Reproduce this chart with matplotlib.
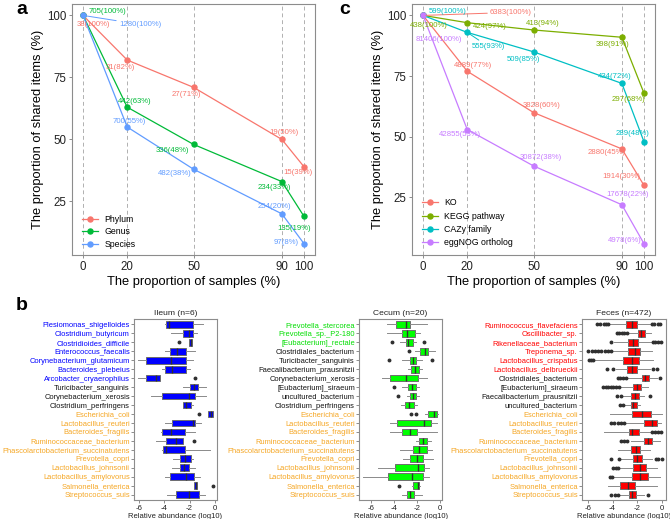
import numpy as np
import matplotlib
matplotlib.use('Agg')
import matplotlib.pyplot as plt

plt.rcParams['font.family'] = ['Liberation Sans', 'DejaVu Sans']

# ---- panel a / c data ----
sample_pct = [0, 20, 50, 90, 100]

taxa_names = ['Phylum', 'Genus', 'Species']
taxa_counts = [[38, 31, 27, 19, 15],
               [705, 442, 336, 234, 135],
               [1280, 700, 482, 254, 97]]
taxa_pct = [[100, 82, 71, 50, 39],
            [100, 63, 48, 33, 19],
            [100, 55, 38, 20, 8]]

func_names = ['KO', 'KEGG pathway', 'CAZy family', 'eggNOG ortholog']
func_counts = [[6383, 4889, 3828, 2880, 1914],
               [438, 424, 413, 398, 297],
               [599, 555, 509, 434, 289],
               [81406, 42855, 30872, 17678, 4978]]
func_pct = [[100, 77, 60, 45, 30],
            [100, 97, 94, 91, 68],
            [100, 93, 85, 72, 48],
            [100, 53, 38, 22, 6]]

# label offsets (pixels) and which labels get a leader line
taxa_offsets = [[(10, -9), (-7, -7), (-7, -7), (2, 7), (-6, -6)],
                [(24, 4), (7, 6), (-21, -6), (-7, -6), (-10, -12)],
                [(57, -9), (2, 6), (-19, -4), (-7, 7), (-18, 1)]]
taxa_leader = [(2, 0)]
func_offsets = [[(88, 3), (6, 6), (8, 7), (-15, -4), (-23, 9)],
                [(6, -10), (23, -4), (9, 6), (-9, -7), (-15, -6)],
                [(25, 4), (21, -14), (-10, -8), (-7, 7), (-11, 8)],
                [(16, -24), (-7, -5), (7, 8), (6, 10), (-19, 3)]]
func_leader = [(0, 0), (2, 1)]

# ---- panel b data ----
shared = ['Escherichia_coli', 'Lactobacillus_reuteri', 'Bacteroides_fragilis',
          'Ruminococcaceae_bacterium', 'Phascolarctobacterium_succinatutens',
          'Prevotella_copri', 'Lactobacillus_johnsonii', 'Lactobacillus_amylovorus',
          'Salmonella_enterica', 'Streptococcus_suis']

ileum_species = ['Plesiomonas_shigelloides', 'Clostridium_butyricum', 'Clostridioides_difficile',
                 'Enterococcus_faecalis', 'Corynebacterium_glutamicum', 'Bacteroides_plebeius',
                 'Arcobacter_cryaerophilus', 'Turicibacter_sanguinis', 'Corynebacterium_xerosis',
                 'Clostridium_perfringens'] + shared
ileum_class = ['own'] * 7 + ['other'] * 3 + ['shared'] * 10
# whislo, q1, median, q3, whishi
ileum_box = [[-3.91, -3.83, -3.65, -1.72, -0.93],
             [-3.44, -2.51, -2.06, -1.72, -1.45],
             [-2.08, -2.06, -1.93, -1.80, -1.78],
             [-3.91, -3.57, -2.96, -2.25, -1.59],
             [-6.10, -5.42, -3.44, -2.30, -1.72],
             [-4.18, -3.91, -3.36, -2.25, -1.98],
             [-6.08, -5.42, -4.63, -4.36, -4.36],
             [-2.51, -1.98, -1.67, -1.32, -0.74],
             [-5.02, -4.18, -2.06, -1.59, -0.71],
             [-2.56, -2.51, -2.25, -1.93, -1.77],
             [-0.55, -0.53, -0.34, -0.13, -0.12],
             [-3.97, -3.36, -1.77, -1.59, -1.11],
             [-4.23, -4.15, -3.44, -2.38, -1.59],
             [-4.68, -3.89, -3.04, -2.56, -2.56],
             [-4.15, -4.10, -3.83, -2.38, -0.40],
             [-3.30, -2.78, -2.38, -1.93, -1.77],
             [-3.36, -2.78, -2.43, -2.04, -1.59],
             [-3.97, -3.52, -2.25, -1.67, -1.19],
             [-1.68, -1.67, -1.53, -1.45, -1.44],
             [-3.75, -3.04, -2.04, -1.24, -0.79]]
ileum_fliers = [[], [], [-2.85], [], [], [], [-1.55], [], [], [],
                [-1.27], [], [], [-1.64], [], [], [], [], [-0.19], []]

cecum_species = ['Prevotella_stercorea', 'Prevotella_sp._P2-180', '[Eubacterium]_rectale',
                 'Clostridiales_bacterium', 'Turicibacter_sanguinis', 'Faecalibacterium_prausnitzii',
                 'Corynebacterium_xerosis', '[Eubacterium]_siraeum', 'uncultured_bacterium',
                 'Clostridium_perfringens'] + shared
cecum_class = ['own'] * 3 + ['other'] * 7 + ['shared'] * 10
cecum_box = [[-4.60, -3.80, -2.95, -2.60, -1.10],
             [-4.61, -3.32, -2.90, -2.16, -1.73],
             [-3.46, -2.97, -2.75, -2.39, -2.10],
             [-2.16, -1.73, -1.30, -1.01, -0.45],
             [-3.32, -2.65, -2.31, -2.05, -1.55],
             [-2.80, -2.50, -2.20, -1.80, -1.55],
             [-5.05, -4.38, -2.94, -1.93, -1.15],
             [-3.32, -2.80, -2.45, -2.11, -1.80],
             [-2.90, -2.60, -2.31, -2.08, -1.85],
             [-3.40, -3.03, -2.68, -2.22, -2.02],
             [-1.30, -1.01, -0.55, -0.23, -0.14],
             [-4.33, -3.75, -1.36, -0.78, -0.23],
             [-4.38, -3.32, -2.60, -2.02, -0.29],
             [-2.11, -1.79, -1.44, -1.15, -0.78],
             [-3.52, -2.31, -1.79, -1.15, -0.72],
             [-3.23, -2.60, -2.02, -1.44, -0.58],
             [-5.39, -3.95, -1.93, -1.36, -0.99],
             [-6.70, -4.53, -2.45, -1.50, -0.95],
             [-2.45, -2.31, -1.93, -1.79, -1.73],
             [-3.32, -2.88, -2.60, -2.25, -1.59]]
cecum_fliers = [[], [], [-4.18, -1.38], [-2.68], [-4.47, -0.72], [], [], [-4.04], [-3.66], [],
                [-2.54, -2.08], [], [], [], [], [], [], [], [-3.55], []]

feces_species = ['Ruminococcus_flavefaciens', 'Oscillibacter_sp.', 'Rikenellaceae_bacterium',
                 'Treponema_sp.', 'Lactobacillus_crispatus', 'Lactobacillus_delbrueckii',
                 'Clostridiales_bacterium', '[Eubacterium]_siraeum', 'Faecalibacterium_prausnitzii',
                 'uncultured_bacterium'] + shared
feces_class = ['own'] * 6 + ['other'] * 4 + ['shared'] * 10
feces_box = [[-4.24, -2.93, -2.41, -2.02, -0.97],
             [-2.80, -1.94, -1.68, -1.41, -0.89],
             [-3.85, -2.75, -2.36, -1.96, -0.92],
             [-3.98, -2.75, -2.23, -1.81, -0.84],
             [-5.42, -3.20, -2.41, -1.89, -0.71],
             [-3.72, -2.86, -2.46, -2.07, -0.97],
             [-2.86, -1.62, -1.36, -1.10, -0.45],
             [-3.41, -2.33, -2.02, -1.70, -1.18],
             [-3.14, -2.54, -2.23, -1.89, -1.49],
             [-3.07, -2.49, -2.36, -2.07, -1.76],
             [-4.19, -2.41, -1.62, -0.89, -0.05],
             [-2.93, -1.49, -0.84, -0.45, -0.13],
             [-4.69, -2.67, -2.41, -1.89, -0.92],
             [-2.54, -1.49, -1.15, -0.84, -0.18],
             [-3.59, -2.54, -2.15, -1.76, -0.97],
             [-3.33, -2.33, -2.02, -1.62, -0.84],
             [-3.46, -2.33, -1.76, -1.28, -0.45],
             [-3.85, -2.41, -1.76, -1.18, -0.18],
             [-4.38, -3.38, -2.75, -2.23, -0.45],
             [-3.46, -2.67, -2.41, -2.15, -1.49]]
feces_fliers = [[-5.29, -5.03, -4.69, -4.51, -4.38, -0.84, -0.63, -0.37, -0.18],
                [-3.64, -3.46, -3.27, -3.07, -2.86],
                [-4.11, -0.76, -0.55, -0.34, -0.13],
                [-5.95, -5.69, -5.42, -5.16, -4.90, -4.64, -4.38, -4.11],
                [-5.89, -5.72, -5.55],
                [-4.43, -3.98, -0.71, -0.45],
                [-3.59, -3.38, -3.20, -2.93, -0.18],
                [-4.77, -4.56, -4.35, -4.14, -3.93, -3.72, -3.46],
                [-3.64, -3.33, -0.97],
                [-3.38, -3.20],
                [],
                [-4.11, -3.85, -3.59, -3.33, -3.07],
                [-0.84, -0.58, -0.32, -0.13],
                [-3.33, -3.07, -2.80],
                [],
                [-4.11, -3.46, -0.50, -0.30, -0.05],
                [-3.98, -3.72, -3.59],
                [-4.17, -4.06],
                [],
                [-4.11, -3.80, -3.59, -1.18]]

# ---- styling ----
W, H = 670, 519
fig = plt.figure(figsize=(W / 100, H / 100), dpi=100)


def fig_rect(x0, y0, x1, y1):
    return [x0 / W, 1 - y1 / H, (x1 - x0) / W, (y1 - y0) / H]


frame_col = '#8C8C8C'
text_col = '#222222'


def style_frame(ax):
    for sp in ax.spines.values():
        sp.set_color(frame_col)
        sp.set_linewidth(0.8)
    ax.tick_params(colors=frame_col, labelcolor=text_col, length=2.5, width=0.7)


def shared_panel(ax, names, counts, pct, colors, offsets, leaders, ylim):
    for x in sample_pct:
        ax.axvline(x, color='#B0B0B0', lw=0.7, ls=(0, (4, 3)), zorder=0)
    for i, name in enumerate(names):
        c = colors[i]
        ax.plot(sample_pct, pct[i], '-o', color=c, lw=0.9, ms=3.6, label=name, zorder=3)
        for j, x in enumerate(sample_pct):
            arrow = None
            if (i, j) in leaders:
                arrow = dict(arrowstyle='-', color=c, lw=0.7, shrinkA=0, shrinkB=2)
            ax.annotate(f'{counts[i][j]}({pct[i][j]}%)', (x, pct[i][j]),
                        xytext=offsets[i][j], textcoords='offset pixels',
                        ha='center', va='center', fontsize=5.6, color=c,
                        arrowprops=arrow, zorder=4)
    ax.set_xlim(-5, 105)
    ax.set_ylim(*ylim)
    ax.set_xticks(sample_pct)
    ax.set_yticks([25, 50, 75, 100])
    style_frame(ax)
    ax.tick_params(labelsize=8.3)
    ax.tick_params(axis='y', pad=1.5)
    ax.tick_params(axis='x', pad=2)
    ax.set_xlabel('The proportion of samples (%)', fontsize=9.3, labelpad=2)
    ax.set_ylabel('The proportion of shared items (%)', fontsize=9.3, labelpad=2)


ax_a = fig.add_axes(fig_rect(72, 4, 315, 255))
shared_panel(ax_a, taxa_names, taxa_counts, taxa_pct,
             ['#F8766D', '#00BA38', '#619CFF'], taxa_offsets, taxa_leader, (3.4, 104.6))
ax_a.legend(loc='lower left', bbox_to_anchor=(0.04, 0.025), frameon=False, fontsize=6.3,
            handlelength=1.9, handletextpad=0.7, labelspacing=0.4, borderpad=0, borderaxespad=0)

ax_c = fig.add_axes(fig_rect(412, 4, 655, 255))
shared_panel(ax_c, func_names, func_counts, func_pct,
             ['#F8766D', '#7CAE00', '#00BFC4', '#C77CFF'], func_offsets, func_leader, (1.3, 104.7))
ax_c.legend(loc='lower left', bbox_to_anchor=(0.04, 0.03), frameon=False, fontsize=6.3,
            handlelength=1.9, handletextpad=0.7, labelspacing=0.5, borderpad=0, borderaxespad=0)


def box_panel(ax, title, species, classes, box, fliers, fill, own_col, xlim):
    n = len(species)
    pos = np.arange(n, 0, -1)
    stats = [dict(whislo=b[0], q1=b[1], med=b[2], q3=b[3], whishi=b[4], fliers=f)
             for b, f in zip(box, fliers)]
    kw = dict(positions=pos, widths=0.75, patch_artist=True, showcaps=False,
              boxprops=dict(facecolor=fill, edgecolor='#6E6E6E', linewidth=0.7),
              medianprops=dict(color='#303030', linewidth=1.0),
              whiskerprops=dict(color='#8A8A8A', linewidth=0.7),
              flierprops=dict(marker='o', markersize=1.8, markerfacecolor='#303030',
                              markeredgecolor='#303030', linestyle='none'))
    try:
        ax.bxp(stats, orientation='horizontal', **kw)
    except TypeError:
        ax.bxp(stats, vert=False, **kw)
    ax.set_ylim(0.4, n + 0.6)
    ax.set_xlim(*xlim)
    ax.set_xticks([-6, -4, -2, 0])
    ax.set_xticklabels(['-6', '-4', '-2', '0'])
    ax.set_yticks(pos)
    ax.set_yticklabels(species)
    style_frame(ax)
    ax.tick_params(axis='y', labelsize=5.4, pad=1, length=2)
    ax.tick_params(axis='x', labelsize=5.6, pad=1.5, length=2)
    class_col = {'own': own_col, 'other': '#111111', 'shared': '#F5A623'}
    for tl, cl in zip(ax.get_yticklabels(), classes):
        tl.set_color(class_col[cl])
    ax.set_title(title, fontsize=6.1, pad=3, color=text_col)
    ax.set_xlabel('Relative abundance (log10)', fontsize=5.5, labelpad=0.5, color=text_col)


ax_i = fig.add_axes(fig_rect(134, 319, 217, 500))
box_panel(ax_i, 'Ileum (n=6)', ileum_species, ileum_class, ileum_box, ileum_fliers,
          '#0000FF', '#0000FF', (-6.39, 0.16))
ax_ce = fig.add_axes(fig_rect(359, 319, 442, 500))
box_panel(ax_ce, 'Cecum (n=20)', cecum_species, cecum_class, cecum_box, cecum_fliers,
          '#00FF00', '#00DD00', (-7.04, 0.17))
ax_f = fig.add_axes(fig_rect(582, 319, 666, 500))
box_panel(ax_f, 'Feces (n=472)', feces_species, feces_class, feces_box, feces_fliers,
          '#FF0000', '#FF0000', (-6.47, 0.31))

fig.text(22 / W, 1 - 9 / H, 'a', fontsize=14, fontweight='bold', ha='center', va='center')
fig.text(345 / W, 1 - 9 / H, 'c', fontsize=14, fontweight='bold', ha='center', va='center')
fig.text(22 / W, 1 - 305 / H, 'b', fontsize=14, fontweight='bold', ha='center', va='center')

fig.savefig('out.png', dpi=100)
